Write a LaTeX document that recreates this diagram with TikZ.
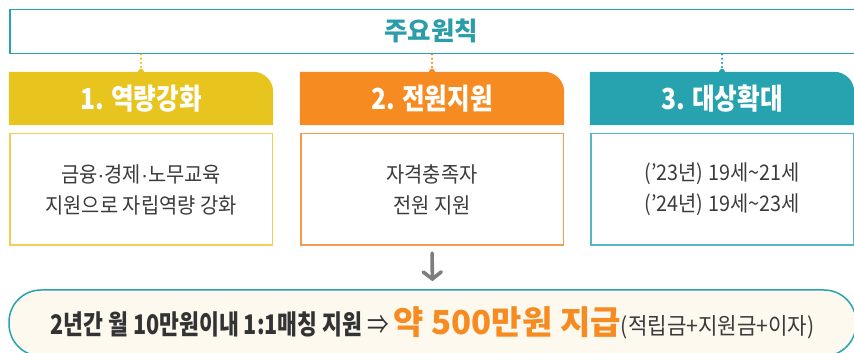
\documentclass[tikz,border=0pt]{standalone}
\usepackage{fontspec}
\setmainfont{Noto Sans CJK KR}
\newfontfamily\krn[FakeStretch=0.85]{Noto Sans CJK KR}
\newfontfamily\krm[FakeStretch=0.8]{Noto Sans CJK KR}
\newfontfamily\krc[FakeStretch=0.92]{Noto Sans CJK KR}
\newfontfamily\latinf{Liberation Sans}
\newcommand{\mdot}{{\latinf ·}}
\usetikzlibrary{arrows.meta,backgrounds}
\definecolor{cyel}{HTML}{E8C41E}
\definecolor{cora}{HTML}{F68B21}
\definecolor{ctea}{HTML}{26A3AF}
\definecolor{cyelL}{HTML}{F1CF52}
\definecolor{coraL}{HTML}{F59B4A}
\definecolor{cteaL}{HTML}{55B7C0}
\definecolor{ctxt}{HTML}{3B3B3B}
\definecolor{cdark}{HTML}{333333}
\definecolor{ccream}{HTML}{FDF9EF}
\definecolor{cgray}{HTML}{7E7E7E}
\definecolor{ctitle}{HTML}{2A9DA9}
\tikzset{
  hdr/.style={minimum width=264pt, minimum height=53pt, inner sep=0pt, text=white,
    font=\krn\bfseries\fontsize{29}{32}\selectfont},
  cbox/.style={draw=#1, line width=1.5pt, minimum width=262.5pt, minimum height=111.5pt,
    inner sep=0pt, align=center, text=ctxt, font=\krc\fontsize{21.5}{31}\selectfont},
  dotc/.style={draw=#1, line width=2.4pt, line cap=round, dash pattern=on 0pt off 4.2pt},
  arr/.style={draw=cgray, line width=3.6pt, line cap=round,
    -{Straight Barb[length=7pt,width=18pt,line cap=round]}, shorten <=7pt, shorten >=8pt}
}
\begin{document}
\begin{tikzpicture}[x=1pt,y=1pt]
\useasboundingbox (0,0) rectangle (854,353);
% top box
\node[draw=ctea, line width=1.5pt, anchor=north west, minimum width=852pt,
  minimum height=44pt, inner sep=0pt] (top) at (9,344) {};
\node[text=ctitle, font=\bfseries\fontsize{25.5}{28}\selectfont] (title) at (431,322) {주요원칙};
% headers
\node[hdr] (h1) at (141,254.5) {1. 역량강화};
\node[hdr] (h2) at (432,254.5) {2. 전원지원};
\node[hdr] (h3) at (722,254.5) {3. 대상확대};
\begin{scope}[on background layer]
\foreach \h/\c in {h1/cyel,h2/cora,h3/ctea}{
  \fill[\c] (\h.south west) -- (\h.north west) -- ([xshift=-20pt]\h.north east)
    arc[start angle=90,end angle=0,radius=20pt] -- (\h.south east) -- cycle;
}
\end{scope}
% dotted connectors
\draw[dotc=cyel] (h1.north |- top.south) -- (h1.north);
\draw[dotc=cora] (h2.north |- top.south) -- (h2.north);
\draw[dotc=ctea] (h3.north |- top.south) -- (h3.north);
\fill[cyel] (h1.north) circle (3pt);
\fill[cora] (h2.north) circle (3pt);
\fill[ctea] (h3.north) circle (3pt);
% content boxes
\node[cbox=cyelL] (c1) at (141,163.5) {금융\mdot 경제\mdot 노무교육\\지원으로 자립역량 강화};
\node[cbox=coraL] (c2) at (432,163.5) {자격충족자\\전원 지원};
\node[cbox=cteaL] (c3) at (722,163.5) {(’23년) 19세\textasciitilde21세\\(’24년) 19세\textasciitilde23세};
% bottom box
\node[draw=ctea, fill=ccream, line width=1.5pt, rounded corners=32pt, minimum width=847pt,
  minimum height=66pt, inner sep=0pt] (bot) at (432.5,30)
  {{\krm\bfseries\color{cdark}\fontsize{27}{30}\selectfont 2년간 월 10만원이내 1:1매칭 지원 {\mdseries ⇒} }{\bfseries\color{cora}\fontsize{33}{36}\selectfont 약 500만원 지급}{\krc\color{ctxt}\fontsize{23}{26}\selectfont (적립금+지원금+이자)}};
% arrow
\draw[arr] (c2.south) -- (bot.north);
\end{tikzpicture}
\end{document}
